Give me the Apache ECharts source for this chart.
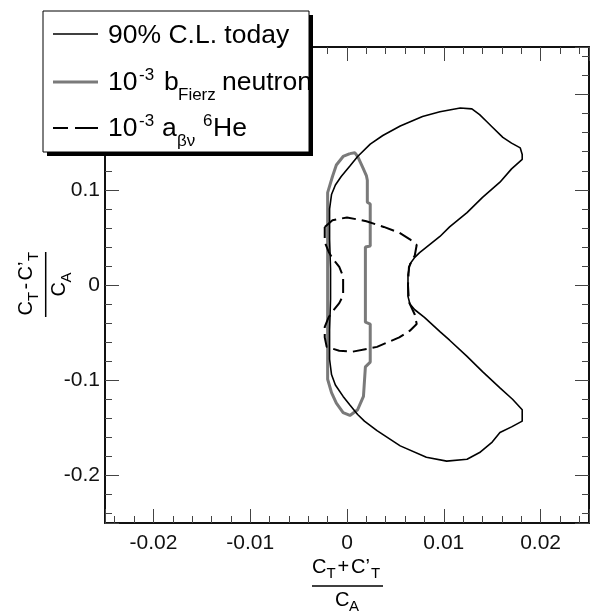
<!DOCTYPE html>
<html>
<head>
<meta charset="utf-8">
<script src="https://cdn.jsdelivr.net/npm/echarts@6/dist/echarts.min.js"></script>
<style>
  html, body { margin: 0; padding: 0; background: #fff; }
  #chart { width: 598px; height: 614px; }
</style>
</head>
<body>
<div id="chart"></div>
<script>
/**
 * Tensor couplings: 90% C.L. contours
 * (C_T + C'_T)/C_A  vs  (C_T - C'_T)/C_A
 */

// 90% C.L. today (black, solid)
const todayContour = [
  [0.0011, 0.135], [0.0024, 0.148], [0.0037, 0.157], [0.0055, 0.167], [0.0078, 0.177],
  [0.0096, 0.182], [0.0117, 0.186], [0.0129, 0.185], [0.0137, 0.179], [0.0144, 0.172],
  [0.0150, 0.166], [0.0161, 0.155], [0.0170, 0.149], [0.0179, 0.144], [0.0181, 0.137],
  [0.0181, 0.132], [0.0170, 0.122], [0.0158, 0.108], [0.0140, 0.092], [0.0124, 0.076],
  [0.0106, 0.061], [0.0096, 0.051], [0.0086, 0.043], [0.0075, 0.034], [0.0070, 0.029],
  [0.0065, 0.022], [0.0063, 0.011], [0.0063, -0.012], [0.0065, -0.020], [0.0070, -0.026],
  [0.0080, -0.034], [0.0096, -0.049], [0.0106, -0.058], [0.0124, -0.075], [0.0140, -0.091],
  [0.0158, -0.108], [0.0171, -0.120], [0.0181, -0.131], [0.0181, -0.143], [0.0170, -0.149],
  [0.0158, -0.155], [0.0150, -0.165], [0.0137, -0.176], [0.0124, -0.183], [0.0103, -0.185],
  [0.0082, -0.181], [0.0055, -0.169], [0.0031, -0.153], [0.0018, -0.143], [0.0011, -0.136],
  [0.0003, -0.126], [-0.0004, -0.117], [-0.0012, -0.105], [-0.0016, -0.094], [-0.0018, -0.078],
  [-0.0018, -0.047], [-0.0017, -0.015], [-0.0017, 0.017], [-0.0018, 0.048], [-0.0018, 0.080],
  [-0.0016, 0.095], [-0.0012, 0.105], [-0.0006, 0.114], [0.0003, 0.125], [0.0011, 0.135],
];

// 10^-3 b_Fierz neutron (grey, thick)
const fierzContour = [
  [0.0003, 0.138], [0.0008, 0.139], [0.0011, 0.135], [0.0016, 0.124], [0.0020, 0.115],
  [0.0021, 0.110], [0.0021, 0.087], [0.0024, 0.085], [0.0024, 0.041], [0.0019, 0.040],
  [0.0019, -0.039], [0.0024, -0.041], [0.0024, -0.081], [0.0019, -0.086], [0.0017, -0.117],
  [0.0011, -0.131], [0.0003, -0.137], [-0.0004, -0.134], [-0.0011, -0.124], [-0.0016, -0.113],
  [-0.0020, -0.099], [-0.0020, 0.097], [-0.0015, 0.114], [-0.0011, 0.126], [-0.0004, 0.135],
  [0.0003, 0.138],
];

// 10^-3 a_beta-nu 6He (black, dashed)
const heContour = [
  [-0.0023, 0.061], [-0.0015, 0.068], [0.0000, 0.071], [0.0020, 0.067], [0.0038, 0.061],
  [0.0054, 0.055], [0.0065, 0.048], [0.0072, 0.042], [0.0070, 0.031], [0.0064, 0.019],
  [0.0063, 0.000], [0.0064, -0.018], [0.0070, -0.031], [0.0072, -0.041], [0.0065, -0.048],
  [0.0054, -0.055], [0.0031, -0.065], [0.0006, -0.070], [-0.0008, -0.069], [-0.0021, -0.065],
  [-0.0023, -0.055], [-0.0023, -0.044], [-0.0019, -0.034], [-0.0015, -0.028], [-0.0008, -0.019],
  [-0.0004, -0.011], [-0.0004, 0.009], [-0.0008, 0.019], [-0.0015, 0.028], [-0.0019, 0.035],
  [-0.0023, 0.045], [-0.0023, 0.061],
];

const xRange = [-0.025, 0.025];
const yRange = [-0.25, 0.25];

const FONT = '"Liberation Sans", Arial, Helvetica, sans-serif';
const GREY = "#7a7a7a";

// text piece placed on a baseline
function txt(text, x, base, size) {
  return {
    type: "text",
    x: x,
    y: base - 0.35 * size,
    z: 102,
    style: {
      text: text,
      font: `${size}px ${FONT}`,
      fill: "#000",
      align: "left",
      verticalAlign: "middle",
    },
  };
}

// axis title drawn as a fraction
function fraction(cx, cy, rotation, halfWidth, num, den) {
  const children = [
    {
      type: "line",
      z: 102,
      shape: { x1: -halfWidth, y1: 0, x2: halfWidth, y2: 0 },
      style: { stroke: "#000", lineWidth: 1.5 },
    },
  ];
  num.forEach(([t, dx, sub]) => children.push(txt(t, dx, sub ? -7 : -12, sub ? 15 : 20)));
  den.forEach(([t, dx, sub]) => children.push(txt(t, dx, sub ? 26 : 21, sub ? 15 : 20)));
  return { type: "group", x: cx, y: cy, rotation: rotation, z: 102, children: children };
}

function axisCommon(range, position, showLabel, margin) {
  return {
    type: "value",
    min: range[0],
    max: range[1],
    position: position,
    axisLine: { onZero: false, lineStyle: { color: "#111", width: 2 } },
    axisTick: { inside: true, length: 14, lineStyle: { color: "#444", width: 1 } },
    minorTick: { show: true, splitNumber: 5, length: 7, lineStyle: { color: "#444", width: 1 } },
    splitLine: { show: false },
    axisLabel: {
      show: showLabel,
      showMinLabel: false,
      showMaxLabel: false,
      margin: margin,
      fontSize: 21,
      fontFamily: FONT,
      color: "#111",
    },
  };
}

const legendGraphics = [
  { type: "rect", z: 100, shape: { x: 47, y: 15, width: 266, height: 141 }, style: { fill: "#000" } },
  { type: "rect", z: 101, shape: { x: 43, y: 11, width: 266, height: 141 }, style: { fill: "#fff", stroke: "#000", lineWidth: 1 } },
  { type: "line", z: 102, shape: { x1: 53, y1: 34, x2: 98, y2: 34 }, style: { stroke: "#000", lineWidth: 1.5 } },
  { type: "line", z: 102, shape: { x1: 53, y1: 82, x2: 98, y2: 82 }, style: { stroke: GREY, lineWidth: 3 } },
  { type: "line", z: 102, shape: { x1: 53, y1: 128, x2: 68, y2: 128 }, style: { stroke: "#000", lineWidth: 2 } },
  { type: "line", z: 102, shape: { x1: 75, y1: 128, x2: 98, y2: 128 }, style: { stroke: "#000", lineWidth: 2 } },
  txt("90% C.L. today", 108, 45, 26.5),
  txt("10", 108, 92, 26.5),
  txt("-3", 139, 81, 17),
  txt("b", 164, 92, 26.5),
  txt("Fierz", 178, 101, 17),
  txt("neutron", 222, 92, 26.5),
  txt("10", 108, 138, 26.5),
  txt("-3", 139, 127, 17),
  txt("a", 162, 138, 26.5),
  txt("βν", 177, 147, 17),
  txt("6", 203, 127, 17),
  txt("He", 213, 138, 26.5),
];

const xTitle = fraction(
  347.5, 586, 0, 35.5,
  [["C", -35.5, 0], ["T", -21, 1], ["+", -10, 0], ["C’", 3.5, 0], ["T", 23.5, 1]],
  [["C", -12.5, 0], ["A", 1.5, 1]]
);

const yTitle = fraction(
  45.7, 284.5, Math.PI / 2, 32.5,
  [["C", -31, 0], ["T", -16.5, 1], ["-", -5, 0], ["C’", 4, 0], ["T", 23.5, 1]],
  [["C", -12, 0], ["A", 2, 1]]
);

const chart = echarts.init(document.getElementById("chart"), null, { renderer: "canvas" });

const option = {
  animation: false,
  backgroundColor: "#fff",
  grid: { left: 105, top: 47, width: 484, height: 476, outerBoundsMode: "none" },
  xAxis: [
    axisCommon(xRange, "bottom", true, 10),
    axisCommon(xRange, "top", false, 8),
  ],
  yAxis: [
    axisCommon(yRange, "left", true, 5),
    axisCommon(yRange, "right", false, 8),
  ],
  series: [
    {
      name: "10-3 bFierz neutron",
      type: "line",
      data: fierzContour,
      showSymbol: false,
      lineStyle: { color: GREY, width: 3 },
      z: 3,
    },
    {
      name: "90% C.L. today",
      type: "line",
      data: todayContour,
      showSymbol: false,
      lineStyle: { color: "#000", width: 1.6 },
      z: 4,
    },
    {
      name: "10-3 a 6He",
      type: "line",
      data: heContour,
      showSymbol: false,
      lineStyle: { color: "#000", width: 2, type: [14, 6] },
      z: 5,
    },
  ],
  graphic: [...legendGraphics, xTitle, yTitle],
};

chart.setOption(option);
</script>
</body>
</html>
